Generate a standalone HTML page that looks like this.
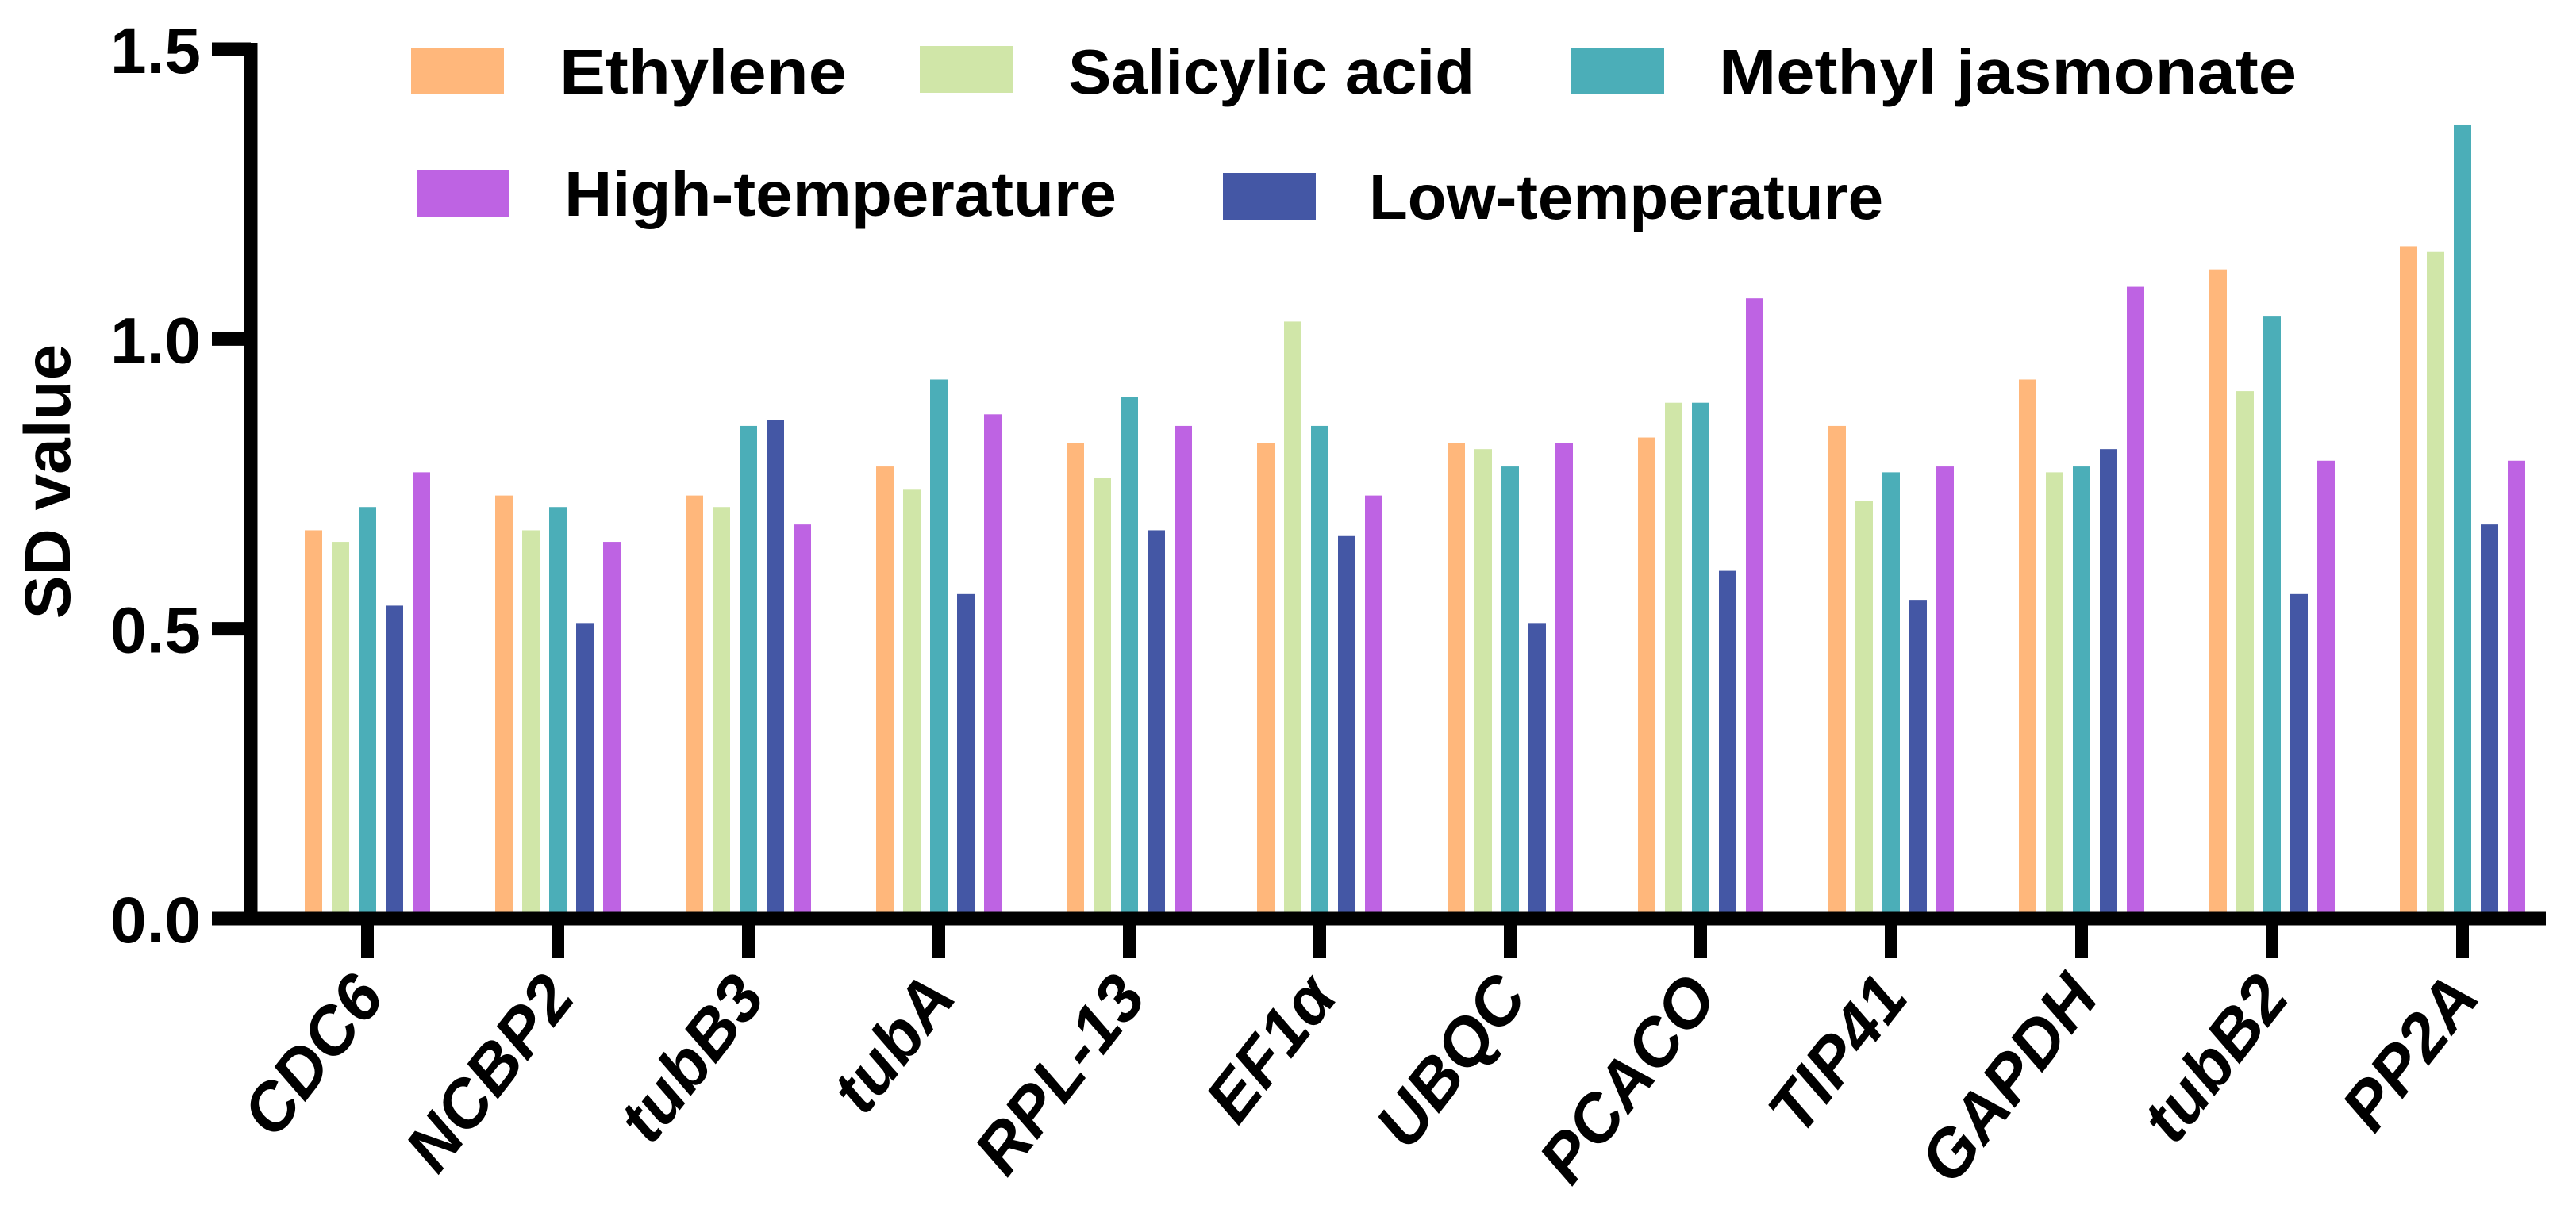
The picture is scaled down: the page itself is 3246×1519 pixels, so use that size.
<!DOCTYPE html>
<html><head><meta charset="utf-8"><style>
html,body{margin:0;padding:0;background:#fff;}
svg{display:block;font-family:"Liberation Sans",Arial,sans-serif;font-weight:bold;}
</style></head><body>
<svg id="chart" width="3246" height="1519" viewBox="0 0 3246 1519" xmlns="http://www.w3.org/2000/svg">
<g id="legend">
 <g><rect x="518" y="60" width="117" height="59" fill="#FFB77B"/><text x="705" y="118" font-size="80" textLength="362" lengthAdjust="spacingAndGlyphs">Ethylene</text></g>
 <g><rect x="1159" y="58" width="117" height="59" fill="#D0E6A8"/><text x="1346" y="118" font-size="80" textLength="512" lengthAdjust="spacingAndGlyphs">Salicylic acid</text></g>
 <g><rect x="1980" y="60" width="117" height="59" fill="#4BAEB8"/><text x="2166" y="118" font-size="80" textLength="728" lengthAdjust="spacingAndGlyphs">Methyl jasmonate</text></g>
 <g><rect x="525" y="214" width="117" height="59" fill="#BE63E3"/><text x="711" y="272" font-size="80" textLength="696" lengthAdjust="spacingAndGlyphs">High-temperature</text></g>
 <g><rect x="1541" y="218" width="117" height="59" fill="#4457A5"/><text x="1725" y="276" font-size="80" textLength="648" lengthAdjust="spacingAndGlyphs">Low-temperature</text></g>
</g>
<g id="bars"></g>
<g id="axes"></g>
<text x="0" y="0" font-size="82" text-anchor="middle" transform="translate(88,607) rotate(-90)">SD value</text>
</svg>
<script>
const categories = ["CDC6","NCBP2","tubB3","tubA","RPL-13","EF1α","UBQC","PCACO","TIP41","GAPDH","tubB2","PP2A"];
const ethylene = [0.67,0.73,0.73,0.78,0.82,0.82,0.82,0.83,0.85,0.93,1.12,1.16];
const salicylic = [0.65,0.67,0.71,0.74,0.76,1.03,0.81,0.89,0.72,0.77,0.91,1.15];
const methylJasmonate = [0.71,0.71,0.85,0.93,0.90,0.85,0.78,0.89,0.77,0.78,1.04,1.37];
const lowTemp = [0.54,0.51,0.86,0.56,0.67,0.66,0.51,0.60,0.55,0.81,0.56,0.68];
const highTemp = [0.77,0.65,0.68,0.87,0.85,0.73,0.82,1.07,0.78,1.09,0.79,0.79];
const yTicks = [0, 0.5, 1.0, 1.5];
const yTickLabels = ["0.0","0.5","1.0","1.5"];

const NS = "http://www.w3.org/2000/svg";
const y0 = 1158, y1 = 62, yMax = 1.5;
function yScale(v){ return y0 - v*(y0-y1)/yMax; }
const gx0 = 463, gStep = 240;
function xScale(i){ return gx0 + i*gStep; }
const series = [
 {name:"ethylene", vals:ethylene, color:"#FFB77B"},
 {name:"salicylic-acid", vals:salicylic, color:"#D0E6A8"},
 {name:"methyl-jasmonate", vals:methylJasmonate, color:"#4BAEB8"},
 {name:"low-temperature", vals:lowTemp, color:"#4457A5"},
 {name:"high-temperature", vals:highTemp, color:"#BE63E3"}
];
const barsG = document.getElementById("bars");
const bw = 22, pitch = 34;
categories.forEach((c,i)=>{
  series.forEach((s,k)=>{
    const r = document.createElementNS(NS,"rect");
    const cx = xScale(i) + (k-2)*pitch;
    const top = yScale(s.vals[i]);
    r.setAttribute("x", cx - bw/2);
    r.setAttribute("y", top);
    r.setAttribute("width", bw);
    r.setAttribute("height", y0 - top);
    r.setAttribute("fill", s.color);
    
    
    barsG.appendChild(r);
  });
});
const ax = document.getElementById("axes");
function line(x1,yA,x2,yB,w,name){
  const l = document.createElementNS(NS,"line");
  l.setAttribute("x1",x1);l.setAttribute("y1",yA);l.setAttribute("x2",x2);l.setAttribute("y2",yB);
  l.setAttribute("stroke","#000");l.setAttribute("stroke-width",w);
  
  
  ax.appendChild(l);
}
line(316, y1-8, 316, y0+8, 17, "y-axis-line");
line(308, y0, 3208, y0, 17, "x-axis-line");
yTicks.forEach((v,i)=>{
  const y = yScale(v);
  line(267, y, 316, y, 17, "y-tick");
  const t = document.createElementNS(NS,"text");
  t.setAttribute("x", 253); t.setAttribute("y", y+30);
  t.setAttribute("font-size", 82); t.setAttribute("text-anchor","end");
  t.textContent = yTickLabels[i];
  
  
  ax.appendChild(t);
});
categories.forEach((c,i)=>{
  const x = xScale(i);
  line(x, y0, x, 1208, 16, "x-tick");
  const t = document.createElementNS(NS,"text");
  const tx = x + 24, ty = 1258;
  t.setAttribute("x", 0); t.setAttribute("y", 0);
  t.setAttribute("transform", "translate("+tx+","+ty+") rotate(-52)");
  t.setAttribute("font-size", 84); t.setAttribute("font-style","italic");
  t.setAttribute("text-anchor","end");
  t.textContent = c;
  
  
  ax.appendChild(t);
});
</script>
</body></html>
